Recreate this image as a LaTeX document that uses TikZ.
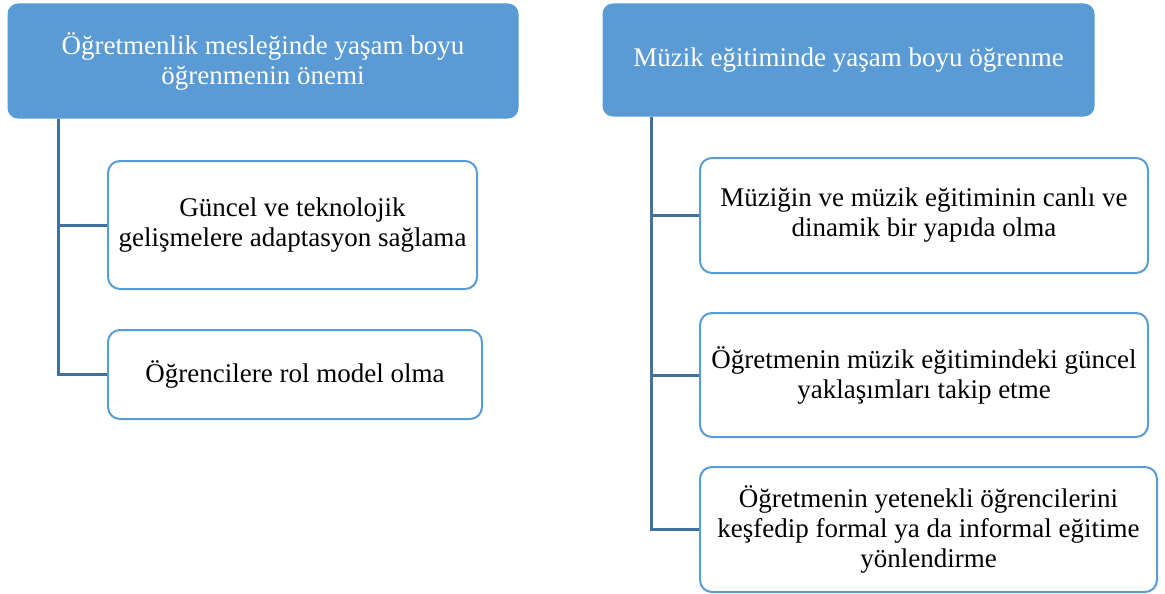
\documentclass[tikz,border=0pt]{standalone}
\usepackage{fontspec}
\setmainfont{Liberation Serif}
\definecolor{hdrblue}{HTML}{5B9BD5}
\definecolor{connblue}{HTML}{41719C}
\begin{document}
\begin{tikzpicture}[x=1pt,y=-1pt,
  txt/.style={font=\fontsize{27}{30}\selectfont, align=center, inner sep=0pt},
  hdr/.style={txt, draw=hdrblue, fill=hdrblue, text=white, rounded corners=10pt, line width=1pt},
  child/.style={txt, draw=hdrblue, fill=white, text=black, rounded corners=12pt, line width=2pt},
  conn/.style={draw=connblue, line width=3pt}]
\useasboundingbox (0,0) rectangle (1165,594);
% trunks (drawn first so box borders sit on top)
\coordinate (lt) at (58,0);
\coordinate (rt) at (651,0);
% headers
\node[hdr, minimum width=510pt, minimum height=114pt] (lh) at (263,61)
  {Öğretmenlik mesleğinde yaşam boyu\\öğrenmenin önemi};
\node[hdr, minimum width=491pt, minimum height=112pt] (rh) at (848.5,60)
  {Müzik eğitiminde yaşam boyu öğrenme};
% left children
\node[child, minimum width=369pt, minimum height=128pt] (l1) at (292.5,225)
  {Güncel ve teknolojik\\gelişmelere adaptasyon sağlama};
\node[child, minimum width=374pt, minimum height=89pt] (l2) at (295,374.5)
  {Öğrencilere rol model olma};
% right children
\node[child, minimum width=448pt, minimum height=115pt] (r1) at (924,215.5)
  {Müziğin ve müzik eğitiminin canlı ve\\dinamik bir yapıda olma};
\node[child, minimum width=448pt, minimum height=124pt] (r2) at (924,375)
  {Öğretmenin müzik eğitimindeki güncel\\yaklaşımları takip etme};
\node[child, minimum width=457pt, minimum height=125pt] (r3) at (928.5,529.5)
  {Öğretmenin yetenekli öğrencilerini\\keşfedip formal ya da informal eğitime\\yönlendirme};
% connectors
\draw[conn] (lh.south -| lt) |- (l1.west);
\draw[conn] (lh.south -| lt) |- (l2.west);
\draw[conn] (rh.south -| rt) |- (r1.west);
\draw[conn] (rh.south -| rt) |- (r2.west);
\draw[conn] (rh.south -| rt) |- (r3.west);
\end{tikzpicture}
\end{document}
